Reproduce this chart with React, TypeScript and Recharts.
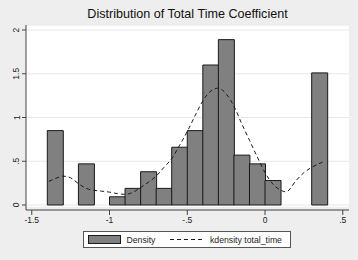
import React from 'react';
import { ComposedChart, Bar, Line, XAxis, YAxis, CartesianGrid, Legend, ReferenceArea } from 'recharts';

const binCenters = [-1.35, -1.15, -0.95, -0.85, -0.75, -0.65, -0.55, -0.45, -0.35, -0.25, -0.15, -0.05, 0.05, 0.35];
const densities = [0.85, 0.47, 0.094, 0.19, 0.38, 0.19, 0.66, 0.85, 1.6, 1.89, 0.57, 0.47, 0.28, 1.51];

const kdX = [-1.39, -1.35, -1.3, -1.25, -1.2, -1.15, -1.1, -1.05, -1.0, -0.95, -0.9, -0.85, -0.8, -0.75, -0.7, -0.65, -0.6, -0.55, -0.5, -0.45, -0.4, -0.35, -0.3, -0.25, -0.2, -0.15, -0.1, -0.05, 0.0, 0.05, 0.1, 0.135, 0.2, 0.25, 0.3, 0.37];
const kdY = [0.27, 0.3, 0.33, 0.31, 0.245, 0.19, 0.168, 0.158, 0.147, 0.13, 0.122, 0.145, 0.2, 0.26, 0.33, 0.43, 0.53, 0.68, 0.84, 1.02, 1.19, 1.3, 1.335, 1.27, 1.13, 0.93, 0.74, 0.55, 0.37, 0.24, 0.17, 0.15, 0.28, 0.37, 0.43, 0.49];

const xTicks = [-1.5, -1, -0.5, 0, 0.5];
const yTicks = [0, 0.5, 1, 1.5, 2];

const titleText = 'Distribution of Total Time Coefficient';
const legendLabels = ['Density', 'kdensity total_time'];

const histData = binCenters.map((x, i) => ({ x, density: densities[i] }));
const kdData = kdX.map((x, i) => ({ x, kd: kdY[i] }));

const FONT = '"Liberation Sans", Arial, Helvetica, sans-serif';
const fmt = (v: number) => (v === 0 ? '0' : String(v).replace('0.', '.'));

const YTick = (props: any) => {
  const { x, y, payload } = props;
  const tx = x - 0.5;
  return (
    <text x={tx} y={y} transform={`rotate(-90, ${tx}, ${y})`} textAnchor="middle" fontSize={8.5} fill="#222" fontFamily={FONT}>
      {fmt(payload.value)}
    </text>
  );
};

const LegendBox = () => (
  <svg width={209} height={17} style={{ display: 'block' }}>
    <rect x={0.5} y={0.5} width={207} height={16} fill="#ffffff" stroke="#555" strokeWidth={1} />
    <rect x={5.5} y={4.5} width={32} height={8} fill="#808080" stroke="#1a1a1a" strokeWidth={1} />
    <text x={43.5} y={11.5} fontSize={8.7} fill="#222" fontFamily={FONT}>{legendLabels[0]}</text>
    <line x1={87} y1={8.5} x2={122} y2={8.5} stroke="#1a1a1a" strokeWidth={1} strokeDasharray="4 3" />
    <text x={127} y={11.5} fontSize={8.7} fill="#222" fontFamily={FONT}>{legendLabels[1]}</text>
  </svg>
);

export default function App() {
  return (
    <div style={{ position: 'absolute', left: 0, top: 0, width: 358, height: 260, background: '#eeeeee' }}>
      <div
        style={{
          position: 'absolute',
          left: 0,
          top: 8,
          width: 375,
          textAlign: 'center',
          fontFamily: FONT,
          fontSize: 12.6,
          lineHeight: '13px',
          color: '#111',
          whiteSpace: 'nowrap',
        }}
      >
        {titleText}
      </div>
      <ComposedChart
        width={358}
        height={260}
        data={histData}
        margin={{ top: 25, right: 9, left: 6, bottom: 30 }}
        barCategoryGap={0}
        barGap={0}
      >
        <CartesianGrid fill="#ffffff" stroke="#e8e8e8" vertical={false} />
        <ReferenceArea y1={-0.0572} y2={-0.021} fill="#eeeeee" fillOpacity={1} stroke="none" ifOverflow="visible" />
        <XAxis
          dataKey="x"
          type="number"
          domain={[-1.537, 0.54]}
          ticks={xTicks}
          tickFormatter={fmt}
          height={20}
          tickSize={5}
          tickMargin={1.5}
          stroke="#444"
          tick={{ fontSize: 8.5, fill: '#222', fontFamily: FONT }}
          allowDataOverflow
        />
        <XAxis xAxisId="k" dataKey="x" type="number" domain={[-1.537, 0.54]} hide allowDataOverflow />
        <YAxis
          type="number"
          domain={[-0.0572, 2.0572]}
          ticks={yTicks}
          width={20}
          tickSize={4}
          tickMargin={2}
          stroke="#444"
          tick={<YTick />}
          allowDataOverflow
        />
        <Bar dataKey="density" fill="#808080" stroke="#1a1a1a" strokeWidth={1} isAnimationActive={false} />
        <Line
          data={kdData}
          xAxisId="k"
          dataKey="kd"
          type="monotone"
          stroke="#1a1a1a"
          strokeWidth={1}
          strokeDasharray="4 3"
          dot={false}
          activeDot={false}
          isAnimationActive={false}
        />
        <Legend
          layout="horizontal"
          verticalAlign="middle"
          align="center"
          content={() => <LegendBox />}
          wrapperStyle={{ position: 'absolute', left: 83, top: 231, width: 209, height: 17 }}
        />
      </ComposedChart>
    </div>
  );
}
